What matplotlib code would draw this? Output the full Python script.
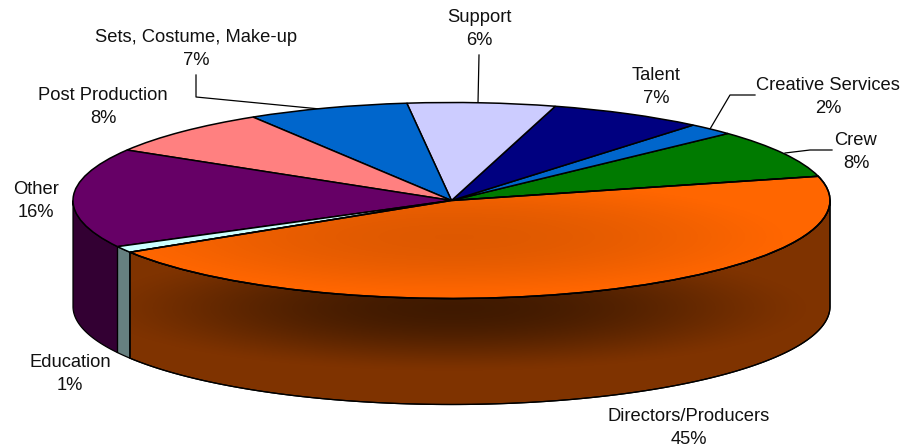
import numpy as np
import matplotlib
matplotlib.use("Agg")
import matplotlib.pyplot as plt
from matplotlib.patches import Polygon, Wedge

categories = ["Crew", "Creative Services", "Talent", "Support", "Sets, Costume, Make-up",
              "Post Production", "Other", "Education", "Directors/Producers"]
values = [8.0, 2.0, 6.6, 6.3, 6.9, 7.6, 16.4, 1.05, 45.1]
top_colors = ["#007a00", "#0066cc", "#000080", "#ccccff", "#0066cc",
              "#ff8080", "#660066", "#ccffff", "#ff6600"]
wall_colors = ["#003d00", "#003366", "#000040", "#666680", "#003366",
               "#804040", "#330033", "#668080", "#7f3300"]
START = 14.3

W, H = 902, 447
CX, CY, RX, RY, DEPTH = 451.5, 200.5, 378.5, 98.0, 106.0

plt.rcParams["font.family"] = ["Liberation Sans", "DejaVu Sans"]
fig = plt.figure(figsize=(W / 100, H / 100), dpi=100)
ax = fig.add_axes([0, 0, 1, 1])


def px(x, y):
    return (x - CX) / RX, (CY - y) / RY


wedges, _ = ax.pie(values, colors=top_colors, startangle=START, counterclock=True,
                   wedgeprops=dict(edgecolor="black", linewidth=1.1, zorder=3))
ax.set_aspect("auto")
x0, y1 = px(0, 0)
x1, y0 = px(W, H)
d = DEPTH / RY


def overlay(x_c, y_c, rx, ry, strength, clip, z, power=1.0):
    gx, gy = np.meshgrid(np.arange(W) + 0.5, np.arange(H) + 0.5)
    t2 = ((gx - x_c) / rx) ** 2 + ((gy - y_c) / ry) ** 2
    rgba = np.zeros((H, W, 4))
    rgba[..., 3] = strength * np.clip(1 - t2, 0, 1) ** power
    im = ax.imshow(rgba, extent=(x0, x1, y0, y1), origin="upper", aspect="auto",
                   zorder=z, interpolation="bilinear")
    im.set_clip_path(clip)


# side walls, built from the wedge angles
for w, wall in zip(wedges, wall_colors):
    lo, hi = w.theta1 % 360, w.theta2 % 360
    if hi <= lo:
        hi += 360
    spans = [(max(lo, 180), min(hi, 360)), (max(lo, 540), min(hi, 720))]
    for a, b in spans:
        if b <= a:
            continue
        t = np.radians(np.linspace(a, b, 200))
        upper = np.column_stack([np.cos(t), np.sin(t)])
        lower = upper[::-1] - [0, d]
        poly = Polygon(np.vstack([upper, lower]), closed=True, facecolor=wall,
                       edgecolor="black", linewidth=0.9, zorder=1)
        ax.add_patch(poly)
        if wall == wall_colors[-1]:
            overlay(CX + 2, 308, 360, 64, 0.50, poly, 1.5, power=1.5)
            edge = Polygon(np.vstack([upper, lower]), closed=True, facecolor="none",
                           edgecolor="black", linewidth=0.9, zorder=1.6)
            ax.add_patch(edge)

# shading on the large top slice
big = wedges[-1]
overlay(CX + 3, 237, 340, 58, 0.13, big, 3.5, power=1.3)
ax.add_patch(Wedge(big.center, big.r, big.theta1, big.theta2, facecolor="none",
                   edgecolor="black", linewidth=1.1, zorder=3.6))

ax.set_xlim(x0, x1)
ax.set_ylim(y0, y1)
ax.axis("off")

# leader lines
leaders = [
    [(196, 75), (196, 97), (320, 109)],
    [(479, 55), (478, 103)],
    [(755, 95), (730, 95), (710, 129)],
    [(832, 150), (810, 150), (785, 153)],
]
for pts in leaders:
    xs, ys = zip(*[px(*p) for p in pts])
    ax.plot(xs, ys, color="black", lw=0.9, zorder=2)

# slice labels: centre position in picture pixels
label_pos = [(856, 152), (828, 97), (656, 87), (479, 29), (196, 49),
             (103, 107), (36, 201), (70, 374), (689, 428)]
for name, v, (lx, ly) in zip(categories, values, label_pos):
    tx, ty = px(lx, ly)
    ax.text(tx, ty, f"{name}\n{v:.0f}%", ha="center", va="center", fontsize=13.2,
            color="#111111", linespacing=1.48, zorder=5)

fig.savefig("out.png", dpi=100, facecolor="white")
